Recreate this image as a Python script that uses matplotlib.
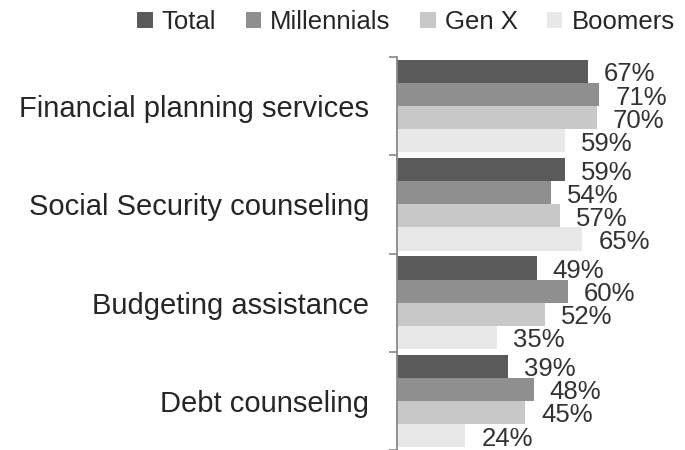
import matplotlib.pyplot as plt
import numpy as np

plt.rcParams['font.family'] = ['Liberation Sans', 'DejaVu Sans']

# Data
categories = ['Financial planning services', 'Social Security counseling',
              'Budgeting assistance', 'Debt counseling']
series = ['Total', 'Millennials', 'Gen X', 'Boomers']
total = [67, 59, 49, 39]
millennials = [71, 54, 60, 48]
gen_x = [70, 57, 52, 45]
boomers = [59, 65, 35, 24]

values = [total, millennials, gen_x, boomers]
colors = ['#5a5a5a', '#8f8f8f', '#c8c8c8', '#e8e8e8']

fig = plt.figure(figsize=(6.85, 4.5), dpi=100)
ax = fig.add_axes([397 / 685, 0, 1 - 397 / 685, 393 / 450])

y = np.arange(len(categories))
h = 0.235
for k, (name, vals) in enumerate(zip(series, values)):
    pos = y + (k - 1.5) * h
    ax.barh(pos, vals, height=h, color=colors[k], label=name)
    for p, v in zip(pos, vals):
        ax.annotate(f'{v}%', (v, p), xytext=(16, -3), textcoords='offset pixels',
                    ha='left', va='center', fontsize=18.5, color='#333333')

ax.set_xlim(0, 101)
ax.set_ylim(3.5, -0.5)
ax.set_xticks([])
ax.set_yticks(y)
ax.set_yticklabels(categories, fontsize=21, color='#262626')
ax.set_yticks(np.arange(-0.5, 4, 1), minor=True)
ax.tick_params(axis='y', which='major', length=0, pad=20)
ax.tick_params(axis='y', which='minor', length=6, width=1.2, color='#888888')

for s in ['top', 'right', 'bottom']:
    ax.spines[s].set_visible(False)
ax.spines['left'].set_color('#888888')
ax.spines['left'].set_linewidth(1.3)

fig.legend(loc='center', bbox_to_anchor=(406 / 685, 1 - 22 / 450), ncol=4,
           frameon=False, fontsize=18.5, handlelength=0.6, handleheight=0.6,
           handletextpad=0.35, columnspacing=1.15, labelcolor='#262626',
           borderpad=0, borderaxespad=0)

fig.savefig('out.png', dpi=100)
